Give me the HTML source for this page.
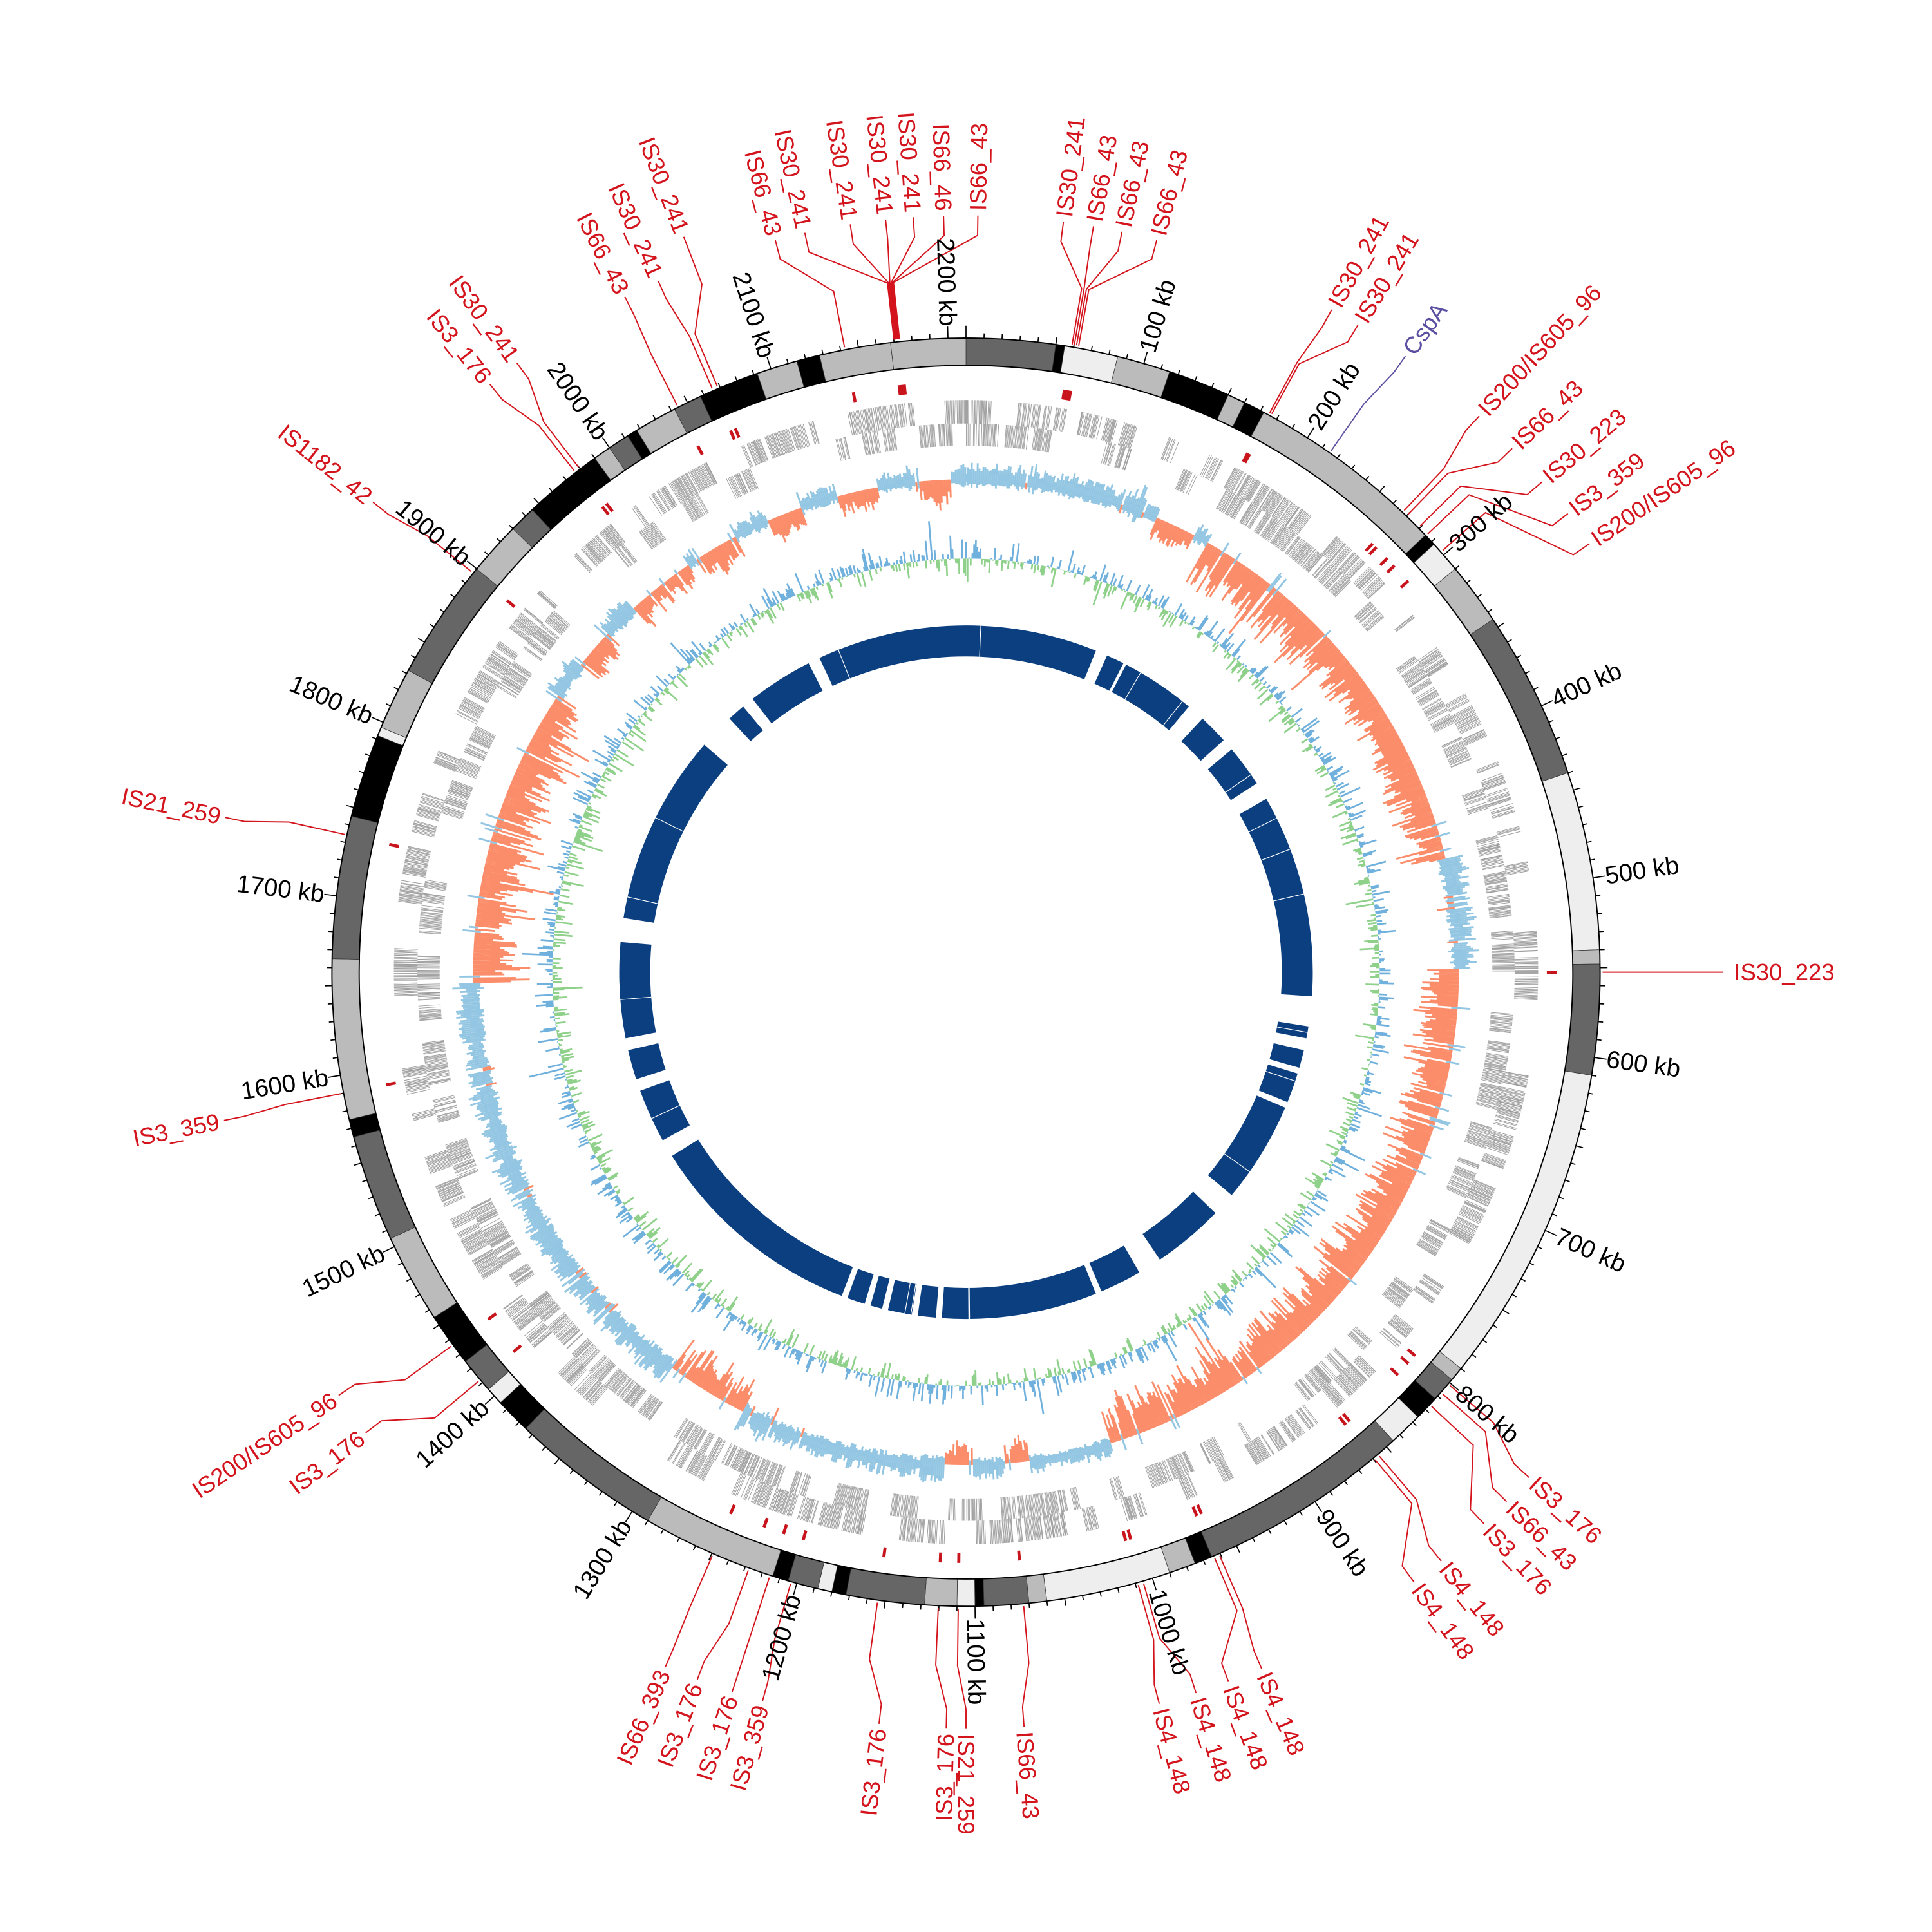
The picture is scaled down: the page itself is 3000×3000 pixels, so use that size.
<!DOCTYPE html>
<html><head><meta charset="utf-8"><style>
html,body{margin:0;padding:0;background:#fff}
svg{display:block}
.t{font-family:"Liberation Sans Narrow","Liberation Sans",sans-serif;font-size:20px;fill:#000;dominant-baseline:central}
.r{font-family:"Liberation Sans Narrow","Liberation Sans",sans-serif;font-size:19px;fill:#d4141c;dominant-baseline:central}
</style></head><body>
<svg id="s" width="3000" height="3000" viewBox="0 0 1560 1560" xmlns="http://www.w3.org/2000/svg">
<g id="g"></g>
<g id="tl">
<text class="t" x="1302" y="785" transform="rotate(-73.71 780 785)">100 kb</text>
<text class="t" x="1302" y="785" transform="rotate(-57.42 780 785)">200 kb</text>
<text class="t" x="1302" y="785" transform="rotate(-41.13 780 785)">300 kb</text>
<text class="t" x="1302" y="785" transform="rotate(-24.84 780 785)">400 kb</text>
<text class="t" x="1302" y="785" transform="rotate(-8.55 780 785)">500 kb</text>
<text class="t" x="1302" y="785" transform="rotate(7.74 780 785)">600 kb</text>
<text class="t" x="1302" y="785" transform="rotate(24.03 780 785)">700 kb</text>
<text class="t" x="1302" y="785" transform="rotate(40.32 780 785)">800 kb</text>
<text class="t" x="1302" y="785" transform="rotate(56.61 780 785)">900 kb</text>
<text class="t" x="1302" y="785" transform="rotate(72.90 780 785)">1000 kb</text>
<text class="t" x="1302" y="785" transform="rotate(89.19 780 785)">1100 kb</text>
<text class="t" x="258" y="785" text-anchor="end" transform="rotate(285.48 780 785)">1200 kb</text>
<text class="t" x="258" y="785" text-anchor="end" transform="rotate(301.76 780 785)">1300 kb</text>
<text class="t" x="258" y="785" text-anchor="end" transform="rotate(318.05 780 785)">1400 kb</text>
<text class="t" x="258" y="785" text-anchor="end" transform="rotate(334.34 780 785)">1500 kb</text>
<text class="t" x="258" y="785" text-anchor="end" transform="rotate(350.63 780 785)">1600 kb</text>
<text class="t" x="258" y="785" text-anchor="end" transform="rotate(366.92 780 785)">1700 kb</text>
<text class="t" x="258" y="785" text-anchor="end" transform="rotate(383.21 780 785)">1800 kb</text>
<text class="t" x="258" y="785" text-anchor="end" transform="rotate(399.50 780 785)">1900 kb</text>
<text class="t" x="258" y="785" text-anchor="end" transform="rotate(415.79 780 785)">2000 kb</text>
<text class="t" x="258" y="785" text-anchor="end" transform="rotate(432.08 780 785)">2100 kb</text>
<text class="t" x="258" y="785" text-anchor="end" transform="rotate(448.37 780 785)">2200 kb</text>
</g>
<g id="lab">
<text class="r" x="165" y="785" text-anchor="end" transform="rotate(435.4 780 785)">IS66_43</text>
<text class="r" x="165" y="785" text-anchor="end" transform="rotate(437.7 780 785)">IS30_241</text>
<text class="r" x="165" y="785" text-anchor="end" transform="rotate(441.2 780 785)">IS30_241</text>
<text class="r" x="165" y="785" text-anchor="end" transform="rotate(443.9 780 785)">IS30_241</text>
<text class="r" x="165" y="785" text-anchor="end" transform="rotate(446 780 785)">IS30_241</text>
<text class="r" x="165" y="785" text-anchor="end" transform="rotate(448.3 780 785)">IS66_46</text>
<text class="r" x="1395" y="785" transform="rotate(-89.1 780 785)">IS66_43</text>
<text class="r" x="1395" y="785" transform="rotate(-82.6 780 785)">IS30_241</text>
<text class="r" x="1395" y="785" transform="rotate(-80.3 780 785)">IS66_43</text>
<text class="r" x="1395" y="785" transform="rotate(-78.1 780 785)">IS66_43</text>
<text class="r" x="1395" y="785" transform="rotate(-75.4 780 785)">IS66_43</text>
<text class="r" x="1395" y="785" transform="rotate(-61.1 780 785)">IS30_241</text>
<text class="r" x="1395" y="785" transform="rotate(-58.8 780 785)">IS30_241</text>
<text class="r" x="1395" y="785" transform="rotate(-54.5 780 785)" style="fill:#5a4fa0">CspA</text>
<text class="r" x="1395" y="785" transform="rotate(-47.3 780 785)">IS200/IS605_96</text>
<text class="r" x="1395" y="785" transform="rotate(-43.8 780 785)">IS66_43</text>
<text class="r" x="1395" y="785" transform="rotate(-40.4 780 785)">IS30_223</text>
<text class="r" x="1395" y="785" transform="rotate(-37.3 780 785)">IS3_359</text>
<text class="r" x="1395" y="785" transform="rotate(-34.5 780 785)">IS200/IS605_96</text>
<text class="r" x="1400" y="785" transform="rotate(0 780 785)">IS30_223</text>
<text class="r" x="1395" y="785" transform="rotate(41.9 780 785)">IS3_176</text>
<text class="r" x="1395" y="785" transform="rotate(44.4 780 785)">IS66_43</text>
<text class="r" x="1395" y="785" transform="rotate(46.8 780 785)">IS3_176</text>
<text class="r" x="1395" y="785" transform="rotate(51.1 780 785)">IS4_148</text>
<text class="r" x="1395" y="785" transform="rotate(53.7 780 785)">IS4_148</text>
<text class="r" x="1395" y="785" transform="rotate(67 780 785)">IS4_148</text>
<text class="r" x="1395" y="785" transform="rotate(69.7 780 785)">IS4_148</text>
<text class="r" x="1395" y="785" transform="rotate(72.3 780 785)">IS4_148</text>
<text class="r" x="1395" y="785" transform="rotate(75.2 780 785)">IS4_148</text>
<text class="r" x="1395" y="785" transform="rotate(85.6 780 785)">IS66_43</text>
<text class="r" x="1395" y="785" transform="rotate(90 780 785)">IS21_259</text>
<text class="r" x="165" y="785" text-anchor="end" transform="rotate(271.5 780 785)">IS3_176</text>
<text class="r" x="165" y="785" text-anchor="end" transform="rotate(276.6 780 785)">IS3_176</text>
<text class="r" x="165" y="785" text-anchor="end" transform="rotate(285.6 780 785)">IS3_359</text>
<text class="r" x="165" y="785" text-anchor="end" transform="rotate(288 780 785)">IS3_176</text>
<text class="r" x="165" y="785" text-anchor="end" transform="rotate(290.8 780 785)">IS3_176</text>
<text class="r" x="165" y="785" text-anchor="end" transform="rotate(293.4 780 785)">IS66_393</text>
<text class="r" x="165" y="785" text-anchor="end" transform="rotate(322.5 780 785)">IS3_176</text>
<text class="r" x="165" y="785" text-anchor="end" transform="rotate(326 780 785)">IS200/IS605_96</text>
<text class="r" x="165" y="785" text-anchor="end" transform="rotate(348.7 780 785)">IS3_359</text>
<text class="r" x="165" y="785" text-anchor="end" transform="rotate(371.8 780 785)">IS21_259</text>
<text class="r" x="165" y="785" text-anchor="end" transform="rotate(398.4 780 785)">IS1182_42</text>
<text class="r" x="165" y="785" text-anchor="end" transform="rotate(411 780 785)">IS3_176</text>
<text class="r" x="165" y="785" text-anchor="end" transform="rotate(413.6 780 785)">IS30_241</text>
<text class="r" x="165" y="785" text-anchor="end" transform="rotate(423.2 780 785)">IS66_43</text>
<text class="r" x="165" y="785" text-anchor="end" transform="rotate(426 780 785)">IS30_241</text>
<text class="r" x="140" y="785" text-anchor="end" transform="rotate(429 780 785)">IS30_241</text>
</g>
</svg>
<script>
(function(){
var cx=780,cy=785,K=360/2210,out=[];
var seed=12345;function rnd(){seed|=0;seed=seed+0x6D2B79F5|0;var t=Math.imul(seed^seed>>>15,1|seed);t=t+Math.imul(t^t>>>7,61|t)^t;return((t^t>>>14)>>>0)/4294967296;}
function P(r,a){a*=Math.PI/180;return (cx+r*Math.sin(a)).toFixed(2)+' '+(cy-r*Math.cos(a)).toFixed(2);}
function arc(r1,r2,a1,a2){var l=(a2-a1)>180?1:0;return 'M'+P(r2,a1)+'A'+r2+' '+r2+' 0 '+l+' 1 '+P(r2,a2)+'L'+P(r1,a2)+'A'+r1+' '+r1+' 0 '+l+' 0 '+P(r1,a1)+'Z';}
var L='#bbb',D='#666',B='#000',W='#eee';
var seg=[[0,50,D],[50,55,B],[55,85,W],[85,115,L],[115,150,B],[150,160,L],[160,172,B],[172,285,L],[285,292,B],[292,310,W],[310,345,L],[345,440,D],[440,540,W],[540,548,L],[548,610,D],[610,790,W],[790,798,L],[798,812,D],[812,826,B],[826,845,W],[845,965,D],[965,975,B],[975,990,L],[990,1060,W],[1060,1070,L],[1070,1095,D],[1095,1100,B],[1100,1110,W],[1110,1128,L],[1128,1172,D],[1172,1180,B],[1180,1188,W],[1188,1205,D],[1205,1214,B],[1214,1290,L],[1290,1375,D],[1375,1395,B],[1395,1405,W],[1405,1425,D],[1425,1455,B],[1455,1505,L],[1505,1565,D],[1565,1575,B],[1575,1665,L],[1665,1745,D],[1745,1792,B],[1792,1797,W],[1797,1832,L],[1832,1900,D],[1900,1930,L],[1930,1945,D],[1945,1990,B],[1990,2000,L],[2000,2012,D],[2012,2018,B],[2018,2042,L],[2042,2058,D],[2058,2092,B],[2092,2115,L],[2115,2128,B],[2128,2168,L],[2168,2210,L]];
seg.forEach(function(q){out.push('<path d="'+arc(490,512,q[0]*K,q[1]*K)+'" fill="'+q[2]+'" stroke="#333" stroke-width="0.4"/>');});
out.push('<circle cx="'+cx+'" cy="'+cy+'" r="512" fill="none" stroke="#000" stroke-width="1"/><circle cx="'+cx+'" cy="'+cy+'" r="490" fill="none" stroke="#000" stroke-width="1"/>');
var tk='';for(var k=0;k<2210;k+=10){var rr=k%100==0?522:k%50==0?518:516;tk+='M'+P(512,k*K)+'L'+P(rr,k*K);}
out.push('<path d="'+tk+'" stroke="#000" stroke-width="0.9"/>');
var gd='';
[[443,462],[425,443]].forEach(function(row){var k=0;while(k<2210){var run=2+rnd()*14;if(rnd()<0.6){var e=Math.min(2210,k+run);for(var j=k;j<e;j+=0.4+rnd()*0.5){if(rnd()<0.9)gd+=arc(row[0],row[1],j*K,(j+0.38)*K);}}k+=run+rnd()*4;}});
out.push('<path d="'+gd+'" fill="#9b9b9b"/>');
var lab=[[345.4,349],[347.7,353.5],[351.2,353.6],[353.9,353.7],[356,353.8],[358.3,353.9],[0.9,354],[7.4,9.6],[9.7,9.8],[11.9,10],[14.6,10.2],[28.9,28.5],[31.2,28.7],[35.5,35,'#5a4fa0'],[42.7,43.5],[46.2,44],[49.6,45.5],[52.7,46.5],[55.5,48.5],[90,90],[131.9,130.5],[134.4,131.5],[136.8,133],[141.1,139.5],[143.7,140],[157,156.5],[159.7,157],[162.3,163.8],[165.2,164.3],[175.6,174.8],[180,180.7],[181.5,182.5],[186.6,188],[195.6,196],[198,198],[200.8,200],[203.4,203.5],[232.5,230],[236,234],[258.7,259],[281.8,282.5],[308.4,309],[321,322],[323.6,322.5],[333.2,333],[336,336.5],[339,337]];
var ld='',ticks='';
lab.forEach(function(q,i){var f=q[1],a=q[0];var r0=(i==lab.length-1)?640:615;var d='M'+P(514,f)+'L'+P(560,f)+'L'+P(595,a)+'L'+P(r0-4,a);if(q[2])out.push('<path d="'+d+'" fill="none" stroke="'+q[2]+'" stroke-width="1"/>');else{ld+=d;ticks+=arc(469,477,f-0.15,f+0.15);}});
out.push('<path d="'+ld+'" fill="none" stroke="#d4141c" stroke-width="1"/>');
out.push('<path d="'+ticks+'" fill="#c8141c"/>');
var reg=[[0,130,1,34],[130,180,0,30],[180,470,-1,55],[470,550,1,38],[550,1000,-1,55],[1000,1060,1,25],[1060,1120,0,30],[1120,1270,1,35],[1270,1330,-1,45],[1330,1650,1,36],[1650,1850,-1,60],[1850,1960,0,35],[1960,2000,-1,30],[2000,2080,0,30],[2080,2200,0,30],[2200,2210,1,30]];
var bl='',og='',gr='',gb='',base=398;
function regOf(k){for(var i=0;i<reg.length;i++)if(k>=reg[i][0]&&k<reg[i][1])return reg[i];return reg[0];}
var sm=0;
for(var a=0;a<360;a+=0.22){var k=a/K,g=regOf(k),sg=g[2],flip=false;if(sg==0)sg=(Math.sin(k/9)+rnd()*0.8-0.4)>0?1:-1;else if(rnd()<0.04){sg=-sg;flip=true;}
sm=sm*0.6+rnd()*0.4;var v=g[3]*(0.2+0.8*sm*Math.pow(rnd(),0.6))*(rnd()<0.06?1.35:1);if(flip)v*=0.5;
if(sg>0){bl+='M'+P(base-v*0.3,a)+'L'+P(base+v*0.6,a);}else{og+='M'+P(base,a)+'L'+P(base-v,a);}
var c=(rnd()-0.47)*34*Math.pow(rnd(),0.5);if(rnd()<0.08)c*=1.8;if(c>0)gb+='M'+P(334,a)+'L'+P(334+c,a);else gr+='M'+P(334,a)+'L'+P(334+c,a);}
out.push('<path d="'+bl+'" stroke="#93c6e2" stroke-width="1.5"/>');
out.push('<path d="'+og+'" stroke="#fc8d6a" stroke-width="1.5"/>');
out.push('<path d="'+gr+'" stroke="#8fd18b" stroke-width="1.4"/>');
out.push('<path d="'+gb+'" stroke="#6fb0dc" stroke-width="1.4"/>');
var nv=[[-25,22],[24,27],[27.5,40],[43,48],[50,57],[60,94],[99,101],[103,106],[107,112],[113,130],[134,146],[150,157],[158,184],[185,188],[189,193],[194,196],[197,200],[201,238],[241,250],[252,257],[259,275],[279,311],[317,320],[322,333]];
var nd='';nv.forEach(function(q){nd+=arc(255,280,q[0],q[1]);});
out.push('<path d="'+nd+'" fill="#0b3f80"/>');
var wl='';for(var i=0;i<20;i++){var a=rnd()*360;wl+='M'+P(255,a)+'L'+P(280,a);}
out.push('<path d="'+wl+'" stroke="#fff" stroke-width="0.6"/>');
document.getElementById('g').innerHTML=out.join('');
})();
</script>
</body></html>
